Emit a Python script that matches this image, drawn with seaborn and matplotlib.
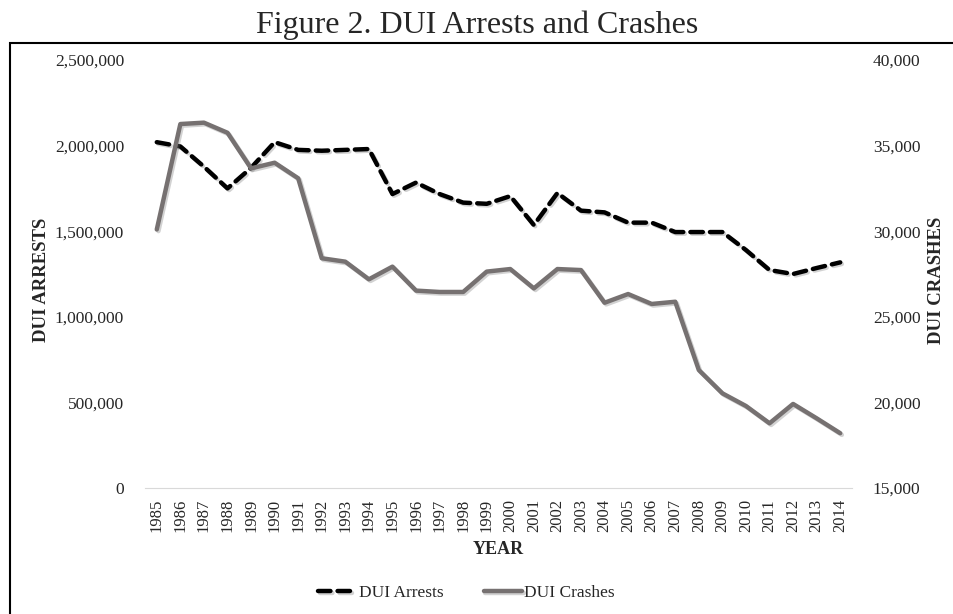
import matplotlib
matplotlib.use("Agg")
import matplotlib.pyplot as plt
import matplotlib.patheffects as pe
from matplotlib.ticker import FuncFormatter
import pandas as pd
import seaborn as sns

# Data
years = list(range(1985, 2015))
arrests = [2020000, 1995000, 1877000, 1750000, 1870000, 2020000, 1975000, 1970000,
           1975000, 1980000, 1717000, 1784000, 1717000, 1667000, 1660000, 1705000,
           1536000, 1723000, 1620000, 1610000, 1550000, 1550000, 1495000, 1495000,
           1495000, 1390000, 1273000, 1250000, 1285000, 1318000]
crashes = [30100, 36260, 36340, 35750, 33670, 34000, 33090, 28420, 28220, 27190,
           27930, 26530, 26450, 26450, 27640, 27790, 26660, 27790, 27730, 25820,
           26330, 25750, 25880, 21890, 20530, 19790, 18780, 19910, 19070, 18200]

df = pd.DataFrame({"year": years, "arrests": arrests, "crashes": crashes})

sns.set_style("white")
plt.rcParams["font.family"] = ["Liberation Serif", "DejaVu Serif"]

fig = plt.figure(figsize=(9.54, 6.14), dpi=100)
ax = fig.add_axes([145 / 954, 1 - 488 / 614, 707 / 954, 428 / 614])
ax2 = ax.twinx()

shadow = [pe.SimpleLineShadow(offset=(1.2, -1.2), shadow_color="gray", alpha=0.35), pe.Normal()]

sns.lineplot(data=df, x="year", y="arrests", ax=ax, color="black", linewidth=3.2,
             linestyle=(0, (2.8, 1.6)), dash_capstyle="round", label="DUI Arrests",
             legend=False, path_effects=shadow)
sns.lineplot(data=df, x="year", y="crashes", ax=ax2, color="#767171", linewidth=3.2,
             label="DUI Crashes", legend=False, path_effects=shadow)

ax.set_xlim(1984.5, 2014.5)
ax.set_ylim(0, 2500000)
ax2.set_ylim(15000, 40000)
ax.set_yticks(range(0, 2500001, 500000))
ax2.set_yticks(range(15000, 40001, 5000))
ax.set_xticks(years)
ax.set_xticklabels([str(y) for y in years], rotation=90, fontsize=12)

fmt = FuncFormatter(lambda v, p: f"{int(v):,}")
ax.yaxis.set_major_formatter(fmt)
ax2.yaxis.set_major_formatter(fmt)

for a in (ax, ax2):
    for s in a.spines.values():
        s.set_visible(False)
    a.tick_params(length=0, labelsize=12.5)
ax.tick_params(axis="x", labelsize=12, pad=8)
ax.spines["bottom"].set_visible(True)
ax.spines["bottom"].set_color("#d9d9d9")
ax.tick_params(axis="y", pad=15)
ax2.tick_params(axis="y", pad=15)

ax.set_xlabel("YEAR", fontsize=13, fontweight="bold")
ax.set_ylabel("DUI ARRESTS", fontsize=13.5, fontweight="bold")
ax2.set_ylabel("DUI CRASHES", fontsize=13.5, fontweight="bold")
ax.xaxis.set_label_coords(0.5, -0.124)
ax.yaxis.set_label_coords(-0.135, 0.486)
ax2.yaxis.set_label_coords(1.108, 0.486)

h1, l1 = ax.get_legend_handles_labels()
h2, l2 = ax2.get_legend_handles_labels()
ax.legend(h1 + h2, l1 + l2, loc="center", bbox_to_anchor=(0.455, -0.246), ncol=2,
          frameon=False, fontsize=12.5, handlelength=2.2, columnspacing=2.3, handletextpad=0.15)

# outer chart frame (only top and left edges are visible in the reference)
fig.add_artist(plt.Rectangle((10 / 954, -0.1), 1.2, 1 - 43 / 614 + 0.1, transform=fig.transFigure,
                             fill=False, edgecolor="black", linewidth=1.5))

fig.suptitle("Figure 2. DUI Arrests and Crashes", fontsize=23, y=1 - 25 / 614, va="center")

plt.savefig("out.png", dpi=100)
